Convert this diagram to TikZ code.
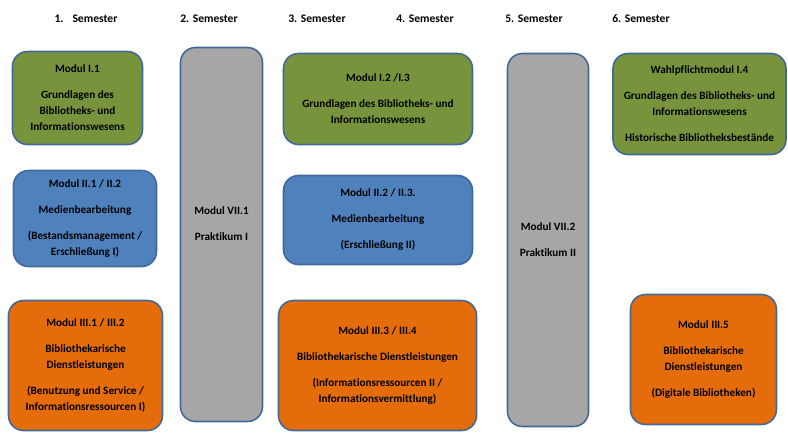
\documentclass[tikz,border=0pt]{standalone}
\usepackage{fontspec}
\setmainfont{Carlito}[Ligatures=NoCommon]
\usepackage{xcolor}
\usepackage{tikz}
\usetikzlibrary{positioning}
\definecolor{rimblue}{HTML}{41699A}
\definecolor{grundgreen}{HTML}{77933C}
\definecolor{medblue}{HTML}{4F81BD}
\definecolor{dienstorange}{HTML}{E46C0A}
\definecolor{praxgray}{HTML}{A6A6A6}
\tikzset{
    every picture/.style={line cap=round,line join=round},
    modbox/.style={draw=rimblue,line width=1.6pt,rounded corners=15pt,
      inner sep=2pt,outer sep=0pt,align=center,text=black,
      font=\fontsize{11.2}{16}\selectfont\bfseries},
    grundbox/.style={modbox,fill=grundgreen},
    medbox/.style={modbox,fill=medblue},
    dienstbox/.style={modbox,fill=dienstorange},
    praxbox/.style={modbox,fill=praxgray},
    semlabel/.style={font=\fontsize{11.6}{14}\selectfont\bfseries,inner sep=0pt}
}

\begin{document}
\begin{tikzpicture}[x=1pt,y=-1pt]
    \useasboundingbox (0,0) rectangle (788,432);

    \node[semlabel] (sem1) at (86,19) {1.\hspace{9pt}Semester};
    \node[semlabel] (sem2) at (209,19) {2. Semester};
    \node[semlabel] (sem3) at (317,19) {3. Semester};
    \node[semlabel] (sem4) at (425,19) {4. Semester};
    \node[semlabel] (sem5) at (534,19) {5. Semester};
    \node[semlabel] (sem6) at (641,19) {6. Semester};

    % 1. Semester
    \node[grundbox,minimum width=130pt,minimum height=93pt] (modI1) at (77.5,98)
        {Modul I.1\\[10pt]Grundlagen des\\Bibliotheks- und\\Informationswesens};
    \node[medbox,minimum width=143pt,minimum height=96pt] (modII1) at (85,218.5)
        {Modul II.1 / II.2\\[10pt]Medienbearbeitung\\[10pt](Bestandsmanagement /\\Erschlie\ss ung I)};
    \node[dienstbox,minimum width=154pt,minimum height=130pt] (modIII1) at (85.5,365.5)
        {Modul III.1 / III.2\\[10pt]Bibliothekarische\\Dienstleistungen\\[10pt](Benutzung und Service /\\Informationsressourcen I)};

    % 2. Semester
    \node[praxbox,minimum width=82pt,minimum height=374pt] (modVII1) at (221.5,234.5)
        {Modul VII.1\\[10pt]Praktikum I\\[6pt]\mbox{}};

    % 3./4. Semester
    \node[grundbox,minimum width=189pt,minimum height=91pt] (modI2) at (378,99)
        {Modul I.2 /I.3\\[10pt]Grundlagen des Bibliotheks- und\\Informationswesens};
    \node[medbox,minimum width=189pt,minimum height=89pt] (modII2) at (378,220)
        {Modul II.2 / II.3.\\[10pt]Medienbearbeitung\\[10pt](Erschlie\ss ung II)};
    \node[dienstbox,minimum width=198pt,minimum height=130pt] (modIII3) at (377.5,365.5)
        {Modul III.3 / III.4\\[10pt]Bibliothekarische Dienstleistungen\\[10pt](Informationsressourcen II /\\Informationsvermittlung)};

    % 5. Semester
    \node[praxbox,minimum width=81pt,minimum height=373pt] (modVII2) at (548,240)
        {Modul VII.2\\[10pt]Praktikum II};

    % 6. Semester
    \node[grundbox,minimum width=173pt,minimum height=101pt] (modI4) at (699.5,104)
        {Wahlpflichtmodul I.4\\[10pt]Grundlagen des Bibliotheks- und\\Informationswesens\\[10pt]Historische Bibliotheksbest\"ande};
    \node[dienstbox,minimum width=146pt,minimum height=130pt] (modIII5) at (703.5,359.5)
        {Modul III.5\\[10pt]Bibliothekarische\\Dienstleistungen\\[10pt](Digitale Bibliotheken)};
\end{tikzpicture}
\end{document}
